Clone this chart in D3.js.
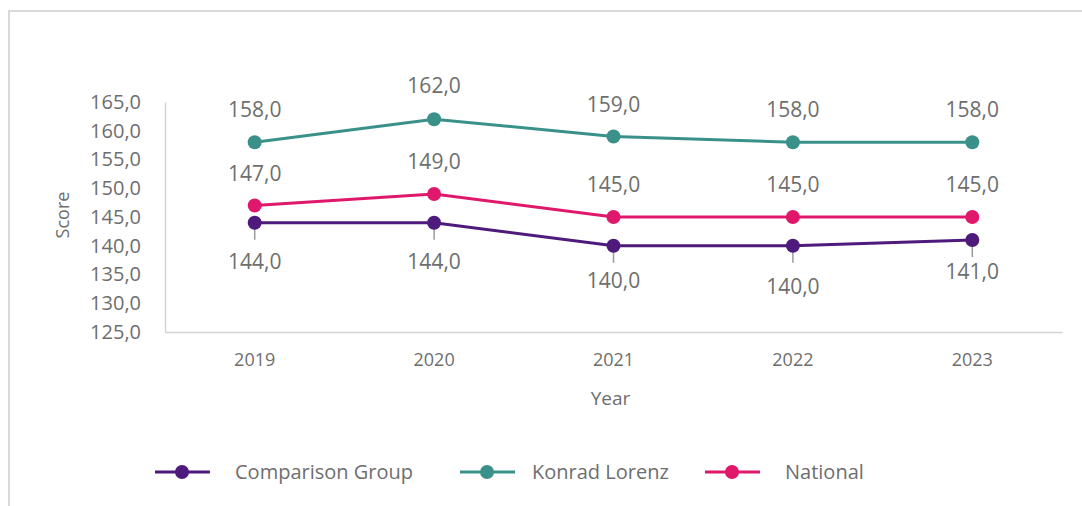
<!DOCTYPE html>
<html>
<head>
<style>
body { margin: 0; background: #fff; }
text { font-family: "Open Sans", sans-serif; fill: #6e6e6e; }
.axis .domain { stroke: #d4d4d4; stroke-width: 1.5px; }
.axis line { display: none; }
</style>
</head>
<body>
<svg id="chart" width="1082" height="506"></svg>
<script src="https://d3js.org/d3.v7.min.js"></script>
<script>

var years = ["2019", "2020", "2021", "2022", "2023"];
var comparison = [144, 144, 140, 140, 141];
var konrad = [158, 162, 159, 158, 158];
var national = [147, 149, 145, 145, 145];
var yTicks = [125, 130, 135, 140, 145, 150, 155, 160, 165];

var series = [
  {name: "Comparison Group", values: comparison, color: "#4e1a7c", legendX: 155, textX: 80},
  {name: "Konrad Lorenz", values: konrad, color: "#3a918a", legendX: 460, textX: 72},
  {name: "National", values: national, color: "#e0186b", legendX: 705, textX: 80}
];

// label offsets (baseline, relative to the marker)
var labelDy = {
  "Comparison Group": [46, 46, 42, 48, 39],
  "Konrad Lorenz": [-25, -26, -25, -25, -25],
  "National": [-25, -25, -25, -25, -25]
};

var svg = d3.select("#chart"),
    margin = {top: 102, left: 165},
    width = 1062 - margin.left,
    height = 332 - margin.top;

// outer frame
svg.append("rect")
    .attr("x", 9).attr("y", 11)
    .attr("width", 1100).attr("height", 520)
    .attr("fill", "none")
    .attr("stroke", "#d9d9d9")
    .attr("stroke-width", 2);

var g = svg.append("g").attr("transform", "translate(" + margin.left + "," + margin.top + ")");

var x = d3.scaleBand().domain(years).range([0, width]).padding(0);
var y = d3.scaleLinear().domain([125, 165]).range([height, 0]);
var fmt = function(v) { return v.toFixed(1).replace(".", ","); };

g.append("g")
    .attr("class", "axis")
    .attr("transform", "translate(0," + height + ")")
    .call(d3.axisBottom(x).tickSizeOuter(0).tickSize(0).tickPadding(21))
    .selectAll("text")
    .style("font-size", "18px");

g.append("g")
    .attr("class", "axis")
    .call(d3.axisLeft(y).tickValues(yTicks).tickFormat(fmt).tickSizeOuter(0).tickSize(0).tickPadding(24))
    .selectAll("text")
    .style("font-size", "20px");

g.append("text")
    .attr("x", width / 2 - 3)
    .attr("y", height + 73)
    .attr("text-anchor", "middle")
    .style("font-size", "19px")
    .text("Year");

g.append("text")
    .attr("transform", "translate(-96," + (height / 2 - 2) + ") rotate(-90)")
    .attr("text-anchor", "middle")
    .style("font-size", "18px")
    .text("Score");

var line = d3.line()
    .x(function(d, i) { return x(years[i]) + x.bandwidth() / 2; })
    .y(function(d) { return y(d); });

series.forEach(function(s) {
  g.append("path")
      .datum(s.values)
      .attr("fill", "none")
      .attr("stroke", s.color)
      .attr("stroke-width", 3)
      .attr("d", line);

  var pts = g.append("g").selectAll("g")
      .data(s.values)
      .enter().append("g")
      .attr("transform", function(d, i) {
        return "translate(" + (x(years[i]) + x.bandwidth() / 2) + "," + y(d) + ")";
      });

  if (s.name === "Comparison Group") {
    pts.append("line")
        .attr("x1", 0).attr("x2", 0)
        .attr("y1", 4).attr("y2", 17)
        .attr("stroke", "#9a9a9a")
        .attr("stroke-width", 1.5);
  }

  pts.append("circle")
      .attr("r", 7)
      .attr("fill", s.color);

  pts.append("text")
      .attr("text-anchor", "middle")
      .attr("y", function(d, i) { return labelDy[s.name][i]; })
      .style("font-size", "21px")
      .text(fmt);
});

// legend
var leg = svg.append("g").attr("transform", "translate(0,472)");
series.forEach(function(s) {
  var lg = leg.append("g").attr("transform", "translate(" + s.legendX + ",0)");
  lg.append("line")
      .attr("x1", 0).attr("x2", 55)
      .attr("stroke", s.color)
      .attr("stroke-width", 3);
  lg.append("circle")
      .attr("cx", 27).attr("r", 7)
      .attr("fill", s.color);
  lg.append("text")
      .attr("x", s.textX)
      .attr("dy", "0.35em")
      .style("font-size", "20px")
      .text(s.name);
});

</script>
</body>
</html>
